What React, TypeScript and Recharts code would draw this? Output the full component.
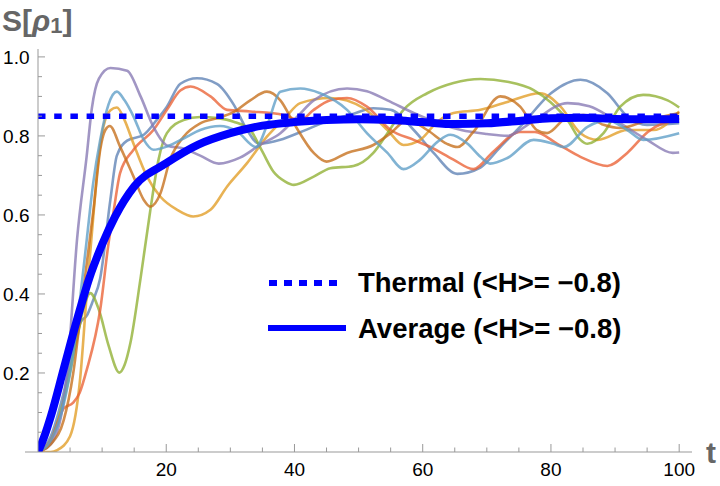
import React from 'react';
import { LineChart, Line, XAxis, YAxis, Legend } from 'recharts';

type P = [number, number];

// individual trajectories (t, S)
const traj1: P[] = [[0,0],[2,0.04],[4,0.15],[5.5,0.26],[6.7,0.33],[7.6,0.345],[8.5,0.38],[9.7,0.44],[11.3,0.64],[12.3,0.75],[13.9,0.788],[16.5,0.803],[18.5,0.84],[20.1,0.874],[22.2,0.932],[24.8,0.946],[27.9,0.932],[30.5,0.88],[32.6,0.815],[34.5,0.78],[37.8,0.79],[41,0.81],[45.6,0.84],[49,0.855],[52.3,0.87],[55,0.866],[58.6,0.815],[61.7,0.757],[65.4,0.704],[69,0.72],[72,0.77],[75.7,0.832],[80,0.908],[84.6,0.942],[88.8,0.908],[92,0.848],[95,0.828],[100,0.832]];
const traj2: P[] = [[0,0],[2,0],[3,0.005],[5,0.04],[6.6,0.19],[7.6,0.40],[8.7,0.61],[9.2,0.706],[10.2,0.823],[11.3,0.865],[12.3,0.872],[13.5,0.84],[14.9,0.78],[17,0.697],[19.1,0.646],[21.7,0.613],[24.2,0.596],[26.9,0.613],[29.5,0.672],[32.6,0.731],[35.7,0.798],[38.5,0.845],[40.9,0.883],[45.6,0.896],[50.8,0.87],[54.5,0.815],[57,0.777],[59.6,0.79],[62.3,0.836],[64.8,0.858],[69,0.866],[73.2,0.886],[78.3,0.908],[81.5,0.874],[84.6,0.807],[87.3,0.79],[91.9,0.815],[96,0.815],[100,0.862]];
const traj3: P[] = [[0,0],[2,0.03],[4,0.13],[6,0.28],[7.2,0.37],[8.15,0.402],[9.5,0.36],[11,0.27],[12.7,0.201],[13.5,0.22],[14.4,0.275],[16,0.44],[17.5,0.61],[18.8,0.74],[20.1,0.807],[22.7,0.84],[25.3,0.848],[28,0.845],[30.5,0.836],[33.1,0.815],[35,0.76],[36.7,0.71],[38.5,0.685],[39.9,0.676],[43,0.697],[45.6,0.718],[49.2,0.724],[52.3,0.757],[54.5,0.807],[57,0.866],[60.7,0.908],[64.8,0.934],[69,0.944],[73.2,0.937],[77.3,0.916],[79.9,0.886],[82.6,0.84],[84.6,0.79],[85.7,0.78],[88.2,0.807],[90.8,0.874],[94.4,0.904],[98.2,0.89],[100,0.872]];
const traj4: P[] = [[0,0],[2,0.03],[4,0.11],[5.5,0.125],[6.5,0.15],[7.6,0.208],[9.7,0.36],[11,0.528],[11.8,0.61],[12.8,0.706],[14.9,0.765],[18,0.815],[20.1,0.866],[22.2,0.915],[23.8,0.925],[26.9,0.9],[29.5,0.866],[33.1,0.862],[38.3,0.853],[40.9,0.84],[43,0.866],[45.6,0.89],[48.2,0.896],[51.3,0.874],[55,0.815],[58.6,0.79],[61.2,0.772],[64.8,0.74],[67.9,0.716],[71,0.76],[75.2,0.81],[77.5,0.81],[81,0.78],[84.6,0.747],[88.8,0.724],[91.9,0.757],[95.1,0.81],[100,0.845]];
const traj5: P[] = [[0,0],[2,0.02],[3.7,0.1],[4.6,0.21],[6.1,0.54],[7.6,0.75],[8.4,0.87],[9.5,0.945],[11.3,0.972],[13.9,0.965],[16,0.9],[18,0.823],[20.2,0.775],[22.7,0.768],[25.3,0.75],[28.2,0.73],[31.5,0.745],[34.7,0.778],[37.8,0.807],[40.5,0.85],[43,0.89],[48.2,0.92],[51.3,0.913],[54.5,0.89],[58.6,0.858],[62.8,0.83],[66,0.815],[70,0.805],[73.2,0.80],[77,0.835],[82.6,0.883],[86,0.875],[90,0.84],[95,0.79],[99,0.757],[100,0.758]];
const traj6: P[] = [[0,0],[2,0.02],[4,0.08],[5.5,0.2],[7,0.4],[8.7,0.62],[9.7,0.765],[10.5,0.815],[11.2,0.825],[12.8,0.773],[14.9,0.697],[16.5,0.638],[17.5,0.621],[19.1,0.655],[20.6,0.74],[22.7,0.798],[25.3,0.832],[28,0.845],[30.5,0.86],[33.1,0.89],[35.7,0.912],[37.8,0.89],[39.9,0.832],[43,0.757],[45,0.735],[48.2,0.757],[52.3,0.777],[55,0.807],[57.6,0.84],[60.7,0.815],[63.8,0.78],[65.4,0.772],[67.9,0.81],[72.1,0.9],[75.2,0.874],[77.8,0.815],[79.4,0.807],[82.6,0.848],[85.1,0.853],[88.2,0.828],[90.8,0.82],[95.1,0.84],[100,0.858]];
const traj7: P[] = [[0,0],[2,0.03],[4,0.12],[5.5,0.25],[6.5,0.38],[7.6,0.537],[8.6,0.68],[9.7,0.79],[11,0.88],[12.3,0.912],[13.5,0.89],[14.9,0.849],[16.5,0.79],[18,0.765],[20.1,0.773],[23.2,0.798],[25.3,0.815],[28.4,0.825],[31,0.812],[34,0.772],[35.8,0.83],[37.8,0.912],[40.9,0.92],[44,0.908],[48.2,0.866],[51.3,0.807],[54.5,0.757],[57,0.716],[59.6,0.74],[62.3,0.785],[64.3,0.803],[67,0.78],[69,0.747],[70.5,0.73],[73.2,0.744],[77.3,0.79],[80.4,0.78],[82,0.772],[85.7,0.823],[88.8,0.84],[91.9,0.815],[94.4,0.79],[100,0.807]];

const average: P[] = [[0,0],[1,0.04],[2,0.09],[4,0.21],[6,0.33],[8,0.44],[10,0.525],[12,0.595],[15,0.672],[20,0.731],[25,0.778],[30,0.807],[35,0.826],[40,0.835],[45,0.84],[50,0.842],[55,0.84],[60,0.835],[65,0.83],[70,0.832],[75,0.838],[80,0.845],[85,0.846],[90,0.843],[95,0.842],[100,0.843]];
const thermal: P[] = [[0,0.85],[100,0.85]];

const trajectories: P[][] = [traj1, traj2, traj3, traj4, traj5, traj6, traj7];
const trajColors = ['#5E81B5', '#E19C24', '#8FB032', '#EB6235', '#8778B3', '#C56E1A', '#5D9EC7'];

const xTicks = [0,5,10,15,20,25,30,35,40,45,50,55,60,65,70,75,80,85,90,95,100];
const xLabelValues = [20,40,60,80,100];
const yTicks = [0.05,0.1,0.15,0.2,0.25,0.3,0.35,0.4,0.45,0.5,0.55,0.6,0.65,0.7,0.75,0.8,0.85,0.9,0.95,1.0];
const yLabelValues = [0.2,0.4,0.6,0.8,1.0];

const legendNames = ['Thermal (<H>= \u22120.8)', 'Average (<H>= \u22120.8)'];

const toRows = (pts: P[]) => pts.map(([t, v]) => ({ t, v }));

const AXIS = '#999999';
const FONT = '"Liberation Sans", Arial, Helvetica, sans-serif';
const BLUE = '#0000FF';

const XTick = (props: any) => {
  const { x, y, payload } = props;
  const v = payload.value;
  const major = xLabelValues.includes(v);
  return (
    <g>
      {v === 0 ? (
        <line x1={x - 13} x2={x} y1={y} y2={y} stroke={AXIS} strokeWidth={1} />
      ) : (
        <line x1={x} x2={x} y1={y} y2={y - (major ? 8 : 4.5)} stroke={AXIS} strokeWidth={1} />
      )}
      {major && (
        <text x={x} y={y + 24} textAnchor="middle" fontSize={19} fontFamily={FONT} fill="#000">
          {v}
        </text>
      )}
    </g>
  );
};

const YTick = (props: any) => {
  const { x, y, payload } = props;
  const v = payload.value;
  const lab = yLabelValues.find((L) => Math.abs(L - v) < 1e-9);
  const major = lab !== undefined;
  return (
    <g>
      <line x1={x} x2={x + (major ? 7 : 4)} y1={y} y2={y} stroke={AXIS} strokeWidth={1} />
      {major && (
        <text x={x - 8.5} y={y} dy="0.36em" textAnchor="end" fontSize={19} fontFamily={FONT} fill="#000">
          {lab!.toFixed(1)}
        </text>
      )}
    </g>
  );
};

const YTitle = () => (
  <text x={2} y={31} fontSize={30} fontWeight="bold" fontFamily={FONT} fill="#666666">
    S[<tspan fontStyle="italic">ρ</tspan>
    <tspan fontSize={22} dy={2}>1</tspan>
    <tspan dy={-2}>]</tspan>
  </text>
);

const XTitle = () => (
  <text x={706} y={463} fontSize={30} fontWeight="bold" fontFamily={FONT} fill="#666666">
    t
  </text>
);

const LegendBox = () => (
  <svg width={420} height={90} style={{ display: 'block' }}>
    <line x1={14} x2={87} y1={23} y2={23} stroke={BLUE} strokeWidth={6} strokeDasharray="8 7" />
    <text x={103} y={32} fontSize={27.5} fontWeight="bold" fontFamily={FONT} fill="#000">
      {legendNames[0]}
    </text>
    <line x1={13} x2={91} y1={68} y2={68} stroke={BLUE} strokeWidth={6} />
    <text x={103} y={78} fontSize={27.5} fontWeight="bold" fontFamily={FONT} fill="#000">
      {legendNames[1]}
    </text>
  </svg>
);

export default function App() {
  return (
    <div style={{ position: 'absolute', left: 0, top: 0, width: 720, height: 486, background: '#fff' }}>
      <LineChart width={720} height={486} margin={{ top: 49, right: 28, bottom: 0, left: 0 }}>
        <XAxis
          type="number"
          dataKey="t"
          domain={[0, 102]}
          allowDataOverflow
          ticks={xTicks}
          interval={0}
          tick={<XTick />}
          tickLine={false}
          tickSize={0}
          tickMargin={0}
          height={34}
          axisLine={{ stroke: AXIS, strokeWidth: 1 }}
          label={{ content: () => <XTitle /> }}
        />
        <YAxis
          type="number"
          dataKey="v"
          domain={[0, 1.02]}
          allowDataOverflow
          ticks={yTicks}
          interval={0}
          tick={<YTick />}
          tickLine={false}
          tickSize={0}
          tickMargin={0}
          width={38}
          axisLine={{ stroke: AXIS, strokeWidth: 1 }}
          label={{ content: () => <YTitle /> }}
        />
        {trajectories.map((pts, i) => (
          <Line
            key={i}
            data={toRows(pts)}
            dataKey="v"
            type="monotone"
            stroke={trajColors[i]}
            strokeOpacity={0.78}
            strokeWidth={2.6}
            dot={false}
            activeDot={false}
            legendType="none"
            isAnimationActive={false}
          />
        ))}
        <Line
          data={toRows(average)}
          dataKey="v"
          name={legendNames[1]}
          type="monotone"
          stroke={BLUE}
          strokeWidth={8}
          dot={false}
          activeDot={false}
          isAnimationActive={false}
        />
        <Line
          data={toRows(thermal)}
          dataKey="v"
          name={legendNames[0]}
          type="linear"
          stroke={BLUE}
          strokeWidth={5.5}
          strokeDasharray="7.5 8.7"
          dot={false}
          activeDot={false}
          isAnimationActive={false}
        />
        <Legend
          layout="horizontal"
          verticalAlign="middle"
          align="center"
          wrapperStyle={{ left: 255, top: 260, width: 420, height: 90 }}
          content={() => <LegendBox />}
        />
      </LineChart>
    </div>
  );
}
